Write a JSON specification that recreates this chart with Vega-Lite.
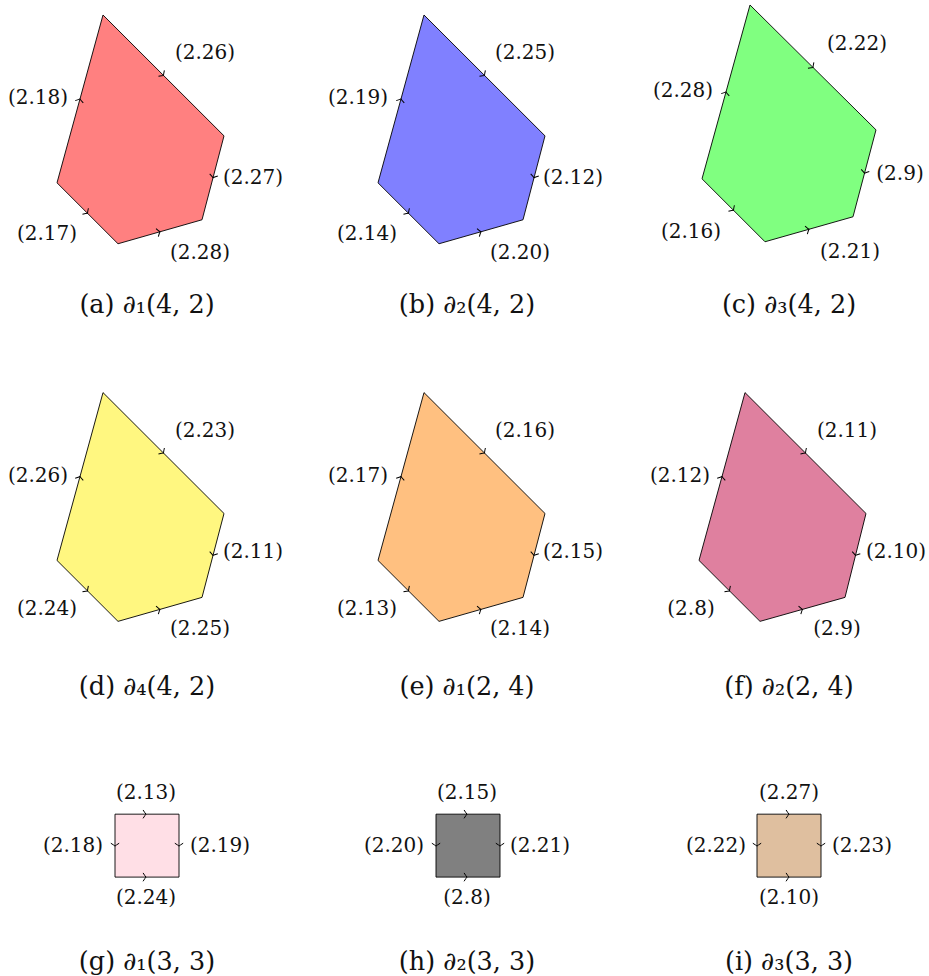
{
  "$schema": "https://vega.github.io/schema/vega-lite/v6.json",
  "width": 929,
  "height": 976,
  "padding": 0,
  "autosize": {"type": "fit", "contains": "padding"},
  "background": "white",
  "config": {"view": {"stroke": null}},
  "datasets": {
    "shapes": [
      {"panel": "a", "order": 1, "x": 103, "y": 15}, {"panel": "a", "order": 2, "x": 224, "y": 136}, {"panel": "a", "order": 3, "x": 202, "y": 220}, {"panel": "a", "order": 4, "x": 118, "y": 244}, {"panel": "a", "order": 5, "x": 57, "y": 183},
      {"panel": "b", "order": 1, "x": 424, "y": 15}, {"panel": "b", "order": 2, "x": 545, "y": 136}, {"panel": "b", "order": 3, "x": 523, "y": 220}, {"panel": "b", "order": 4, "x": 439, "y": 244}, {"panel": "b", "order": 5, "x": 378, "y": 183},
      {"panel": "c", "order": 1, "x": 750, "y": 5}, {"panel": "c", "order": 2, "x": 876, "y": 130}, {"panel": "c", "order": 3, "x": 853, "y": 217}, {"panel": "c", "order": 4, "x": 765, "y": 242}, {"panel": "c", "order": 5, "x": 702, "y": 179},
      {"panel": "d", "order": 1, "x": 103, "y": 393}, {"panel": "d", "order": 2, "x": 224, "y": 514}, {"panel": "d", "order": 3, "x": 202, "y": 598}, {"panel": "d", "order": 4, "x": 118, "y": 622}, {"panel": "d", "order": 5, "x": 57, "y": 561},
      {"panel": "e", "order": 1, "x": 424, "y": 393}, {"panel": "e", "order": 2, "x": 545, "y": 514}, {"panel": "e", "order": 3, "x": 523, "y": 598}, {"panel": "e", "order": 4, "x": 439, "y": 622}, {"panel": "e", "order": 5, "x": 378, "y": 561},
      {"panel": "f", "order": 1, "x": 745, "y": 393}, {"panel": "f", "order": 2, "x": 866, "y": 514}, {"panel": "f", "order": 3, "x": 845, "y": 598}, {"panel": "f", "order": 4, "x": 760, "y": 622}, {"panel": "f", "order": 5, "x": 699, "y": 561},
      {"panel": "g", "order": 1, "x": 115, "y": 815}, {"panel": "g", "order": 2, "x": 179, "y": 815}, {"panel": "g", "order": 3, "x": 179, "y": 878}, {"panel": "g", "order": 4, "x": 115, "y": 878},
      {"panel": "h", "order": 1, "x": 436, "y": 815}, {"panel": "h", "order": 2, "x": 500, "y": 815}, {"panel": "h", "order": 3, "x": 500, "y": 878}, {"panel": "h", "order": 4, "x": 436, "y": 878},
      {"panel": "i", "order": 1, "x": 757, "y": 815}, {"panel": "i", "order": 2, "x": 821, "y": 815}, {"panel": "i", "order": 3, "x": 821, "y": 878}, {"panel": "i", "order": 4, "x": 757, "y": 878}
    ],
    "arrows": [
      {"panel": "a", "x": 80, "y": 99, "angle": -74.7}, {"panel": "a", "x": 163.5, "y": 75.5, "angle": 45}, {"panel": "a", "x": 213, "y": 178, "angle": 104.7}, {"panel": "a", "x": 87.5, "y": 213.5, "angle": 45}, {"panel": "a", "x": 160, "y": 232, "angle": -15.9},
      {"panel": "b", "x": 401, "y": 99, "angle": -74.7}, {"panel": "b", "x": 484.5, "y": 75.5, "angle": 45}, {"panel": "b", "x": 534, "y": 178, "angle": 104.7}, {"panel": "b", "x": 408.5, "y": 213.5, "angle": 45}, {"panel": "b", "x": 481, "y": 232, "angle": -15.9},
      {"panel": "c", "x": 726, "y": 92, "angle": -74.9}, {"panel": "c", "x": 813, "y": 67.5, "angle": 44.8}, {"panel": "c", "x": 864.5, "y": 173.5, "angle": 104.8}, {"panel": "c", "x": 733.5, "y": 210.5, "angle": 45}, {"panel": "c", "x": 809, "y": 229.5, "angle": -15.9},
      {"panel": "d", "x": 80, "y": 477, "angle": -74.7}, {"panel": "d", "x": 163.5, "y": 453.5, "angle": 45}, {"panel": "d", "x": 213, "y": 556, "angle": 104.7}, {"panel": "d", "x": 87.5, "y": 591.5, "angle": 45}, {"panel": "d", "x": 160, "y": 610, "angle": -15.9},
      {"panel": "e", "x": 401, "y": 477, "angle": -74.7}, {"panel": "e", "x": 484.5, "y": 453.5, "angle": 45}, {"panel": "e", "x": 534, "y": 556, "angle": 104.7}, {"panel": "e", "x": 408.5, "y": 591.5, "angle": 45}, {"panel": "e", "x": 481, "y": 610, "angle": -15.9},
      {"panel": "f", "x": 722, "y": 477, "angle": -74.7}, {"panel": "f", "x": 805.5, "y": 453.5, "angle": 45}, {"panel": "f", "x": 855.5, "y": 556, "angle": 104.7}, {"panel": "f", "x": 729.5, "y": 591.5, "angle": 45}, {"panel": "f", "x": 802.5, "y": 610, "angle": -15.9},
      {"panel": "g", "x": 146, "y": 815, "angle": 0}, {"panel": "g", "x": 115, "y": 847, "angle": 90}, {"panel": "g", "x": 179, "y": 847, "angle": 90}, {"panel": "g", "x": 146, "y": 878, "angle": 0},
      {"panel": "h", "x": 467, "y": 815, "angle": 0}, {"panel": "h", "x": 436, "y": 847, "angle": 90}, {"panel": "h", "x": 500, "y": 847, "angle": 90}, {"panel": "h", "x": 467, "y": 878, "angle": 0},
      {"panel": "i", "x": 789, "y": 815, "angle": 0}, {"panel": "i", "x": 757, "y": 847, "angle": 90}, {"panel": "i", "x": 821, "y": 847, "angle": 90}, {"panel": "i", "x": 789, "y": 878, "angle": 0}
    ],
    "labels": [
      {"x": 205, "y": 53, "label": "(2.26)"}, {"x": 38, "y": 98, "label": "(2.18)"}, {"x": 253, "y": 178, "label": "(2.27)"}, {"x": 47, "y": 234, "label": "(2.17)"}, {"x": 200, "y": 253, "label": "(2.28)"},
      {"x": 525, "y": 53, "label": "(2.25)"}, {"x": 358, "y": 98, "label": "(2.19)"}, {"x": 573, "y": 178, "label": "(2.12)"}, {"x": 367, "y": 234, "label": "(2.14)"}, {"x": 520, "y": 253, "label": "(2.20)"},
      {"x": 857, "y": 44, "label": "(2.22)"}, {"x": 683, "y": 91, "label": "(2.28)"}, {"x": 900, "y": 174, "label": "(2.9)"}, {"x": 691, "y": 232, "label": "(2.16)"}, {"x": 850, "y": 252, "label": "(2.21)"},
      {"x": 205, "y": 431, "label": "(2.23)"}, {"x": 38, "y": 476, "label": "(2.26)"}, {"x": 253, "y": 553, "label": "(2.11)"}, {"x": 47, "y": 610, "label": "(2.24)"}, {"x": 200, "y": 630, "label": "(2.25)"},
      {"x": 525, "y": 431, "label": "(2.16)"}, {"x": 358, "y": 476, "label": "(2.17)"}, {"x": 573, "y": 553, "label": "(2.15)"}, {"x": 367, "y": 610, "label": "(2.13)"}, {"x": 520, "y": 630, "label": "(2.14)"},
      {"x": 847, "y": 431, "label": "(2.11)"}, {"x": 680, "y": 476, "label": "(2.12)"}, {"x": 896, "y": 553, "label": "(2.10)"}, {"x": 691, "y": 610, "label": "(2.8)"}, {"x": 837, "y": 630, "label": "(2.9)"},
      {"x": 146, "y": 794, "label": "(2.13)"}, {"x": 73, "y": 847, "label": "(2.18)"}, {"x": 220, "y": 847, "label": "(2.19)"}, {"x": 146, "y": 899, "label": "(2.24)"},
      {"x": 467, "y": 794, "label": "(2.15)"}, {"x": 394, "y": 847, "label": "(2.20)"}, {"x": 540, "y": 847, "label": "(2.21)"}, {"x": 467, "y": 899, "label": "(2.8)"},
      {"x": 789, "y": 794, "label": "(2.27)"}, {"x": 716, "y": 847, "label": "(2.22)"}, {"x": 862, "y": 847, "label": "(2.23)"}, {"x": 789, "y": 899, "label": "(2.10)"}
    ],
    "captions": [
      {"x": 147, "y": 305, "caption": "(a) ∂₁(4, 2)"}, {"x": 467, "y": 305, "caption": "(b) ∂₂(4, 2)"}, {"x": 789, "y": 305, "caption": "(c) ∂₃(4, 2)"},
      {"x": 147, "y": 688, "caption": "(d) ∂₄(4, 2)"}, {"x": 467, "y": 688, "caption": "(e) ∂₁(2, 4)"}, {"x": 789, "y": 688, "caption": "(f) ∂₂(2, 4)"},
      {"x": 147, "y": 963, "caption": "(g) ∂₁(3, 3)"}, {"x": 467, "y": 963, "caption": "(h) ∂₂(3, 3)"}, {"x": 789, "y": 963, "caption": "(i) ∂₃(3, 3)"}
    ]
  },
  "encoding": {
    "x": {"field": "x", "type": "quantitative", "scale": {"domain": [0, 929], "nice": false, "zero": false}, "axis": null},
    "y": {"field": "y", "type": "quantitative", "scale": {"domain": [0, 976], "nice": false, "zero": false, "reverse": true}, "axis": null}
  },
  "layer": [
    {
      "data": {"name": "shapes"},
      "mark": {"type": "line", "interpolate": "linear-closed", "stroke": "black", "strokeWidth": 0.9},
      "encoding": {
        "detail": {"field": "panel"},
        "order": {"field": "order", "type": "quantitative"},
        "fill": {"field": "panel", "type": "nominal", "legend": null,
          "scale": {"domain": ["a", "b", "c", "d", "e", "f", "g", "h", "i"],
                    "range": ["#FF8080", "#8080FF", "#80FF80", "#FFF780", "#FFC080", "#DF809F", "#FFDFE6", "#808080", "#DFBF9F"]}}
      }
    },
    {
      "data": {"name": "arrows"},
      "mark": {"type": "point", "shape": "M-0.7,-1Q-0.2,-0.2,0,0Q-0.2,0.2,-0.7,1", "filled": false, "stroke": "black", "strokeWidth": 1, "size": 70, "opacity": 1},
      "encoding": {
        "angle": {"field": "angle", "type": "quantitative", "scale": null}
      }
    },
    {
      "data": {"name": "labels"},
      "mark": {"type": "text", "font": "DejaVu Serif", "fontSize": 20, "color": "#111111", "align": "center", "baseline": "middle"},
      "encoding": {"text": {"field": "label"}}
    },
    {
      "data": {"name": "captions"},
      "mark": {"type": "text", "font": "DejaVu Serif", "fontSize": 25.5, "color": "#111111", "align": "center", "baseline": "middle"},
      "encoding": {"text": {"field": "caption"}}
    }
  ]
}
